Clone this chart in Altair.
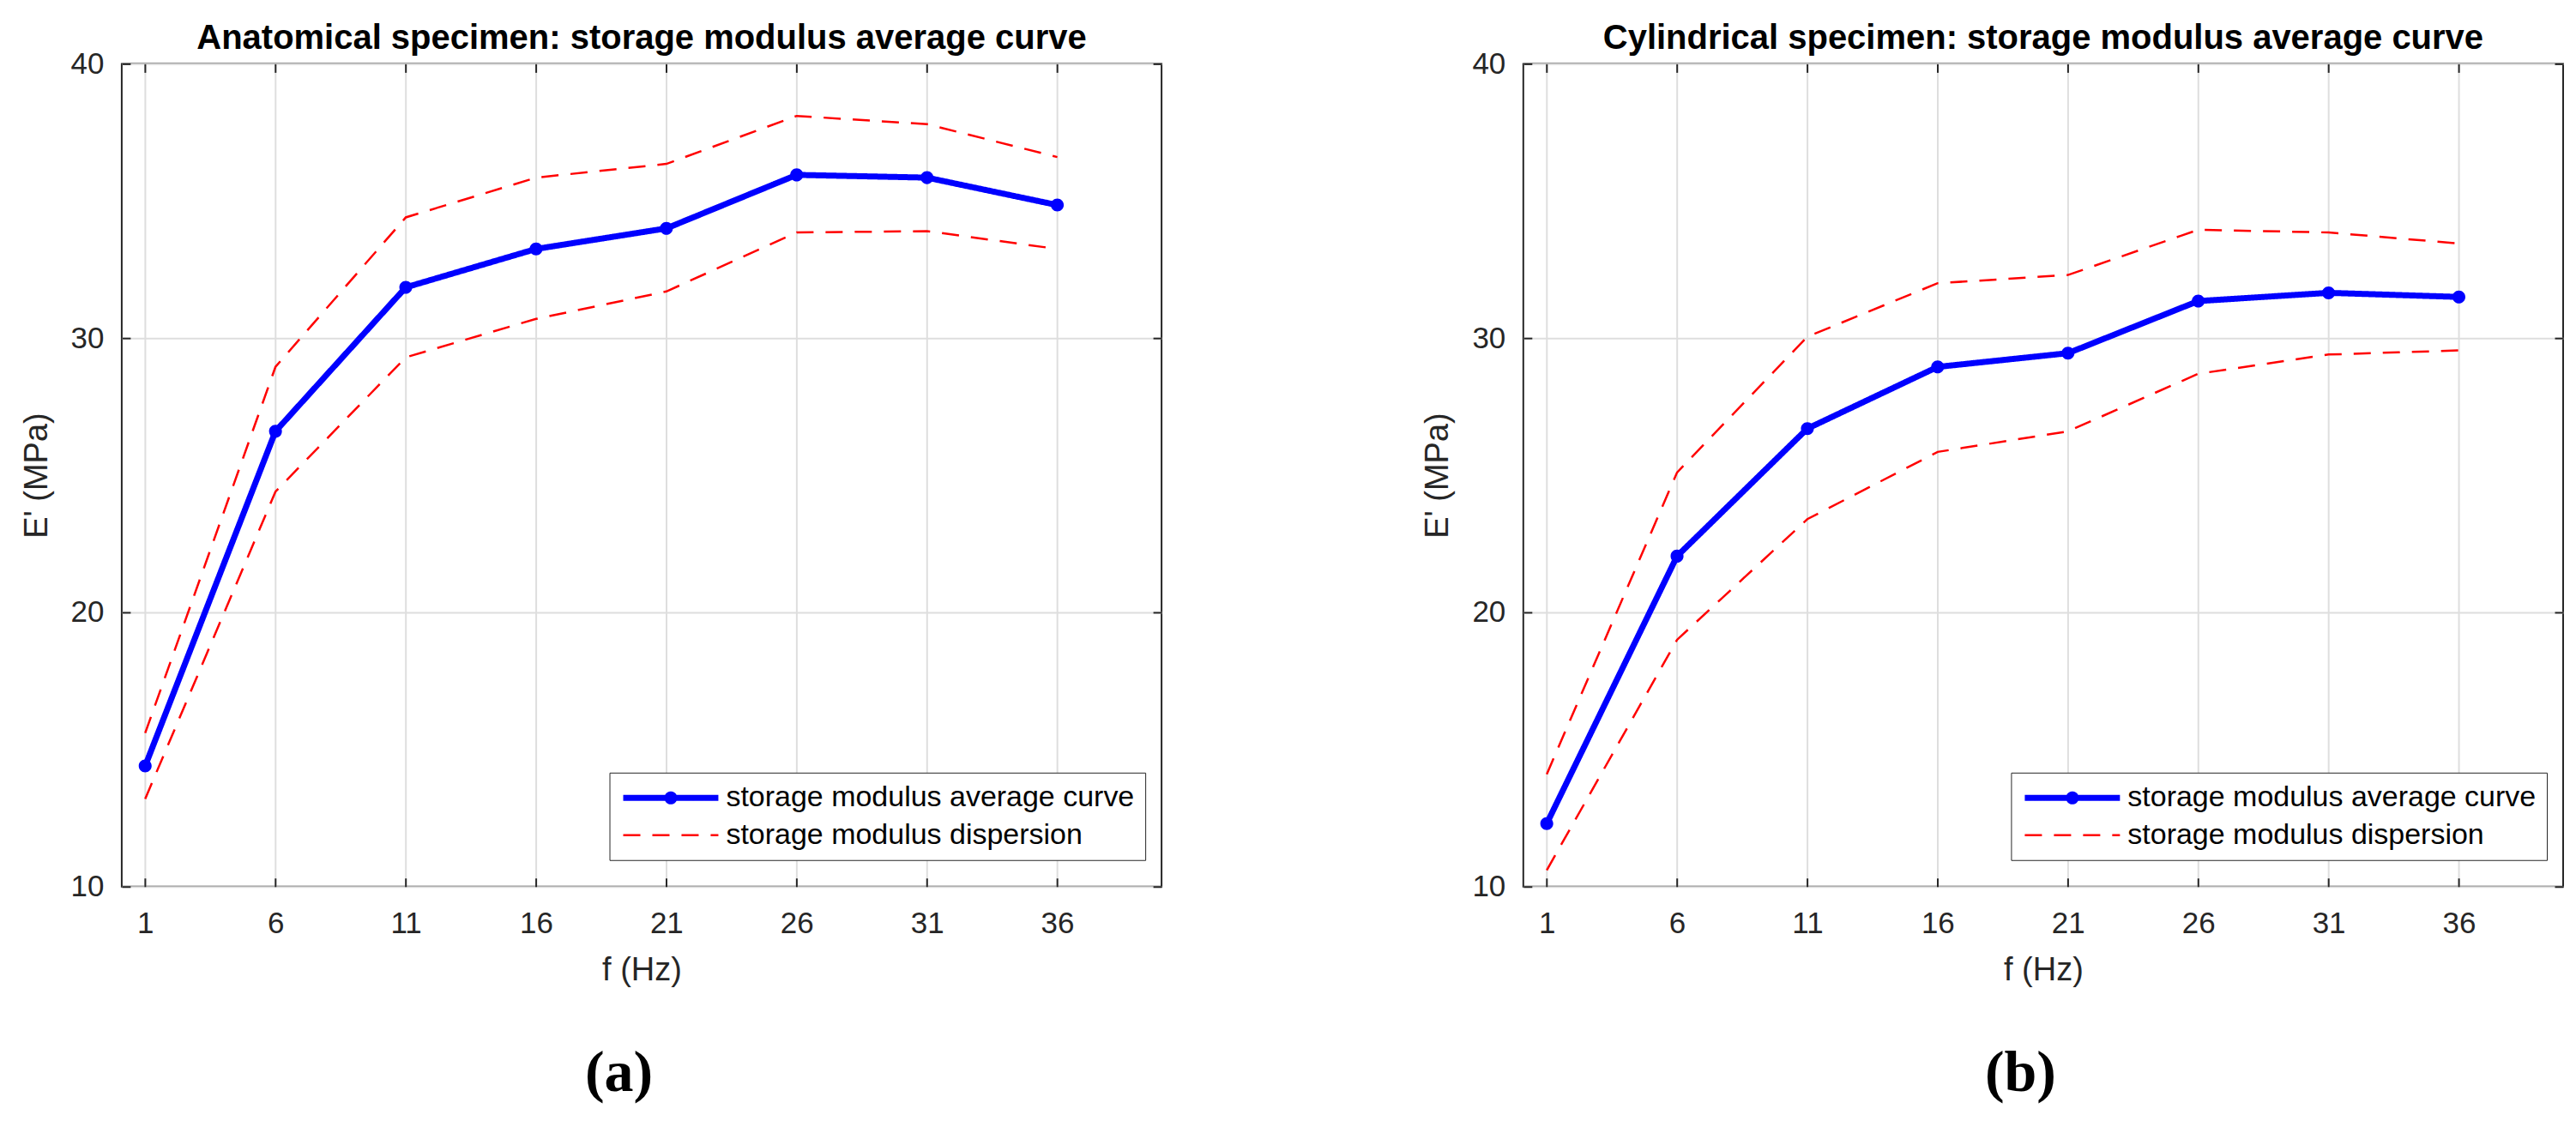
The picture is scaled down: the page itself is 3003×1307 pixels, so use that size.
import altair as alt
import pandas as pd

# ---------------- data ----------------
FREQ = [1, 6, 11, 16, 21, 26, 31, 36]

ANAT_MEAN = [14.4, 26.6, 31.85, 33.25, 34.0, 35.95, 35.85, 34.85]
ANAT_UPPER = [15.6, 28.95, 34.4, 35.85, 36.35, 38.1, 37.8, 36.6]
ANAT_LOWER = [13.2, 24.4, 29.3, 30.7, 31.7, 33.85, 33.9, 33.25]

CYL_MEAN = [12.3, 22.05, 26.7, 28.95, 29.45, 31.35, 31.65, 31.5]
CYL_UPPER = [14.1, 25.1, 30.05, 32.0, 32.3, 33.95, 33.85, 33.45]
CYL_LOWER = [10.6, 19.0, 23.4, 25.85, 26.6, 28.7, 29.4, 29.55]

SERIES = ["storage modulus average curve", "storage modulus dispersion"]
TITLES = [
    "Anatomical specimen: storage modulus average curve",
    "Cylindrical specimen: storage modulus average curve",
]
CAPTIONS = ["(a)", "(b)"]
X_TICKS = [1, 6, 11, 16, 21, 26, 31, 36]
Y_TICKS = [10, 20, 30, 40]
X_TITLE = "f (Hz)"
Y_TITLE = "E' (MPa)"

# ---------------- styling ----------------
BLUE = "#0000ff"
RED = "#ff0000"
INK = "#262626"
GRID = "#dedede"
FONT = "Liberation Sans"
SERIF = "Liberation Serif"
W, H = 1213, 960

PATH_MEAN = "M-4,0H4M0.29,0A0.29,0.29,0,1,1,-0.29,0A0.29,0.29,0,1,1,0.29,0Z"
PATH_DISP = "M-4,0H4"


def legend():
    return alt.Legend(
        title=None, orient="none", legendX=569, legendY=827,
        fillColor="#ffffff", strokeColor=INK, padding=12, rowPadding=8,
        labelFont=FONT, labelFontSize=34, labelColor="#000000", labelLimit=1000,
        symbolSize=770, symbolOffset=42, labelOffset=47,
    )


def panel(mean, upper, lower, title, caption):
    mean_df = pd.DataFrame({"f": FREQ, "E": mean, "series": SERIES[0], "curve": "mean"})
    disp_df = pd.concat([
        pd.DataFrame({"f": FREQ, "E": upper, "series": SERIES[1], "curve": "upper"}),
        pd.DataFrame({"f": FREQ, "E": lower, "series": SERIES[1], "curve": "lower"}),
    ], ignore_index=True)

    xs = alt.Scale(domain=[0.1, 40], nice=False, zero=False)
    ys = alt.Scale(domain=[10, 40], nice=False, zero=False)

    color = alt.Color("series:N", scale=alt.Scale(domain=SERIES, range=[BLUE, RED]), legend=legend())
    dash = alt.StrokeDash("series:N", scale=alt.Scale(domain=SERIES, range=[[1, 0], [20, 14]]), legend=legend())
    sw = alt.StrokeWidth("series:N", scale=alt.Scale(domain=SERIES, range=[7, 2.5], padding=0), legend=legend())
    shape = alt.Shape("series:N", scale=alt.Scale(domain=SERIES, range=[PATH_MEAN, PATH_DISP]), legend=legend())

    ax_bottom = alt.Axis(
        orient="bottom", values=X_TICKS, offset=-10, tickSize=10, tickColor=INK, tickWidth=2,
        domain=False, grid=True, gridColor=GRID, gridWidth=2,
        labelFont=FONT, labelFontSize=35, labelColor=INK, labelPadding=26,
        title=X_TITLE, titleFont=FONT, titleFontSize=38, titleFontWeight="normal",
        titleColor=INK, titlePadding=18,
    )
    ax_left = alt.Axis(
        orient="left", values=Y_TICKS, offset=-10, tickSize=10, tickColor=INK, tickWidth=2,
        domain=False, grid=True, gridColor=GRID, gridWidth=2,
        labelFont=FONT, labelFontSize=35, labelColor=INK, labelPadding=21,
        title=Y_TITLE, titleFont=FONT, titleFontSize=38, titleFontWeight="normal",
        titleColor=INK, titlePadding=20,
    )
    ax_top = alt.Axis(orient="top", values=X_TICKS, offset=-10, tickSize=10, tickColor=INK,
                      tickWidth=2, domain=False, grid=False, labels=False, title=None)
    ax_right = alt.Axis(orient="right", values=Y_TICKS, offset=-10, tickSize=10, tickColor=INK,
                        tickWidth=2, domain=False, grid=False, labels=False, title=None)

    disp = alt.Chart(disp_df).mark_line(strokeCap="butt").encode(
        x=alt.X("f:Q", scale=xs, axis=ax_bottom),
        y=alt.Y("E:Q", scale=ys, axis=ax_left),
        color=color, strokeDash=dash, strokeWidth=sw,
        detail="curve:N",
    )
    mean_line = alt.Chart(mean_df).mark_line().encode(
        x=alt.X("f:Q", scale=xs, axis=ax_top),
        y=alt.Y("E:Q", scale=ys, axis=ax_right),
        color=color, strokeDash=dash, strokeWidth=sw,
    )
    pts = alt.Chart(mean_df).mark_point(filled=True, opacity=1, size=2700).encode(
        x=alt.X("f:Q", scale=xs, axis=None),
        y=alt.Y("E:Q", scale=ys, axis=None),
        color=color, shape=shape,
    )

    layered = alt.layer(disp, mean_line, pts).properties(
        width=W, height=H,
        title=alt.TitleParams(
            text=title, font=FONT, fontSize=40, fontWeight="bold", color="#000000",
            anchor="middle", frame="group", offset=-8,
        ),
    )
    res = dict(color="independent", strokeDash="independent",
               strokeWidth="independent", shape="independent")
    return alt.hconcat(
        layered,
        title=alt.TitleParams(
            text=caption, orient="bottom", font=SERIF, fontSize=68, fontWeight="bold",
            color="#000000", anchor="middle", offset=66, dx=32,
        ),
    ).resolve_scale(**res).resolve_legend(**res)


pa = panel(ANAT_MEAN, ANAT_UPPER, ANAT_LOWER, TITLES[0], CAPTIONS[0])
pb = panel(CYL_MEAN, CYL_UPPER, CYL_LOWER, TITLES[1], CAPTIONS[1])

res = dict(color="independent", strokeDash="independent",
           strokeWidth="independent", shape="independent")
chart = (
    alt.hconcat(pa, pb, spacing=301)
    .resolve_scale(**res)
    .resolve_legend(**res)
    .properties(padding={"left": 15, "top": 16, "right": 5, "bottom": 5}, background="#ffffff")
    .configure_view(stroke=INK, strokeWidth=2)
)

chart.save("out.html", embed_options={"renderer": "svg", "actions": False})
